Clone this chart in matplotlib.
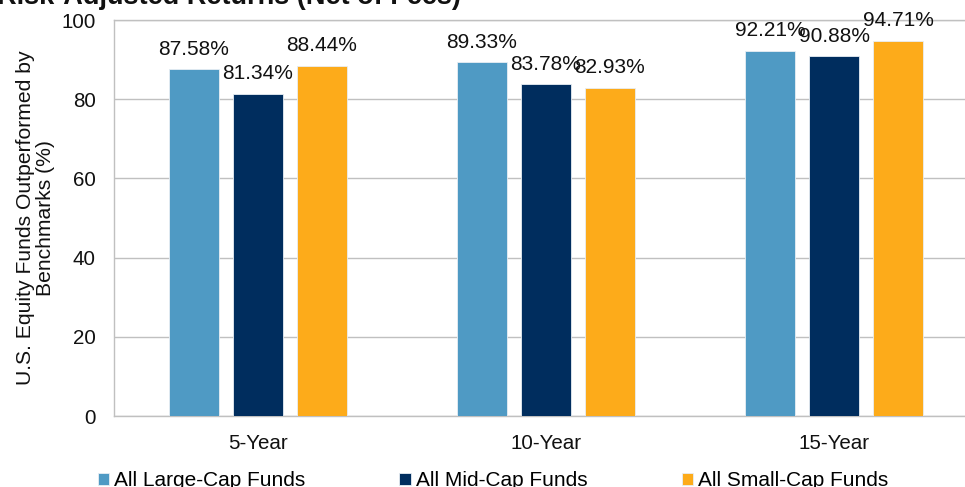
import matplotlib
matplotlib.use("Agg")
import matplotlib.pyplot as plt
import numpy as np

plt.rcParams['font.family'] = ['Liberation Sans', 'DejaVu Sans']

categories = ["5-Year", "10-Year", "15-Year"]
series_names = ["All Large-Cap Funds", "All Mid-Cap Funds", "All Small-Cap Funds"]
large_cap = [87.58, 89.33, 92.21]
mid_cap = [81.34, 83.78, 90.88]
small_cap = [88.44, 82.93, 94.71]
colors = ["#4F9AC4", "#002D5E", "#FDAB1A"]
yticks = [0, 20, 40, 60, 80, 100]

fig = plt.figure(figsize=(9.65, 4.87), dpi=100)
ax = fig.add_axes([114/965, 71/487, (978-114)/965, 396/487])

x = np.arange(len(categories))
width = 0.1736
offsets = [-0.2222, 0.0, 0.2222]
handles = []
for vals, off, col, name in zip([large_cap, mid_cap, small_cap], offsets, colors, series_names):
    bars = ax.bar(x + off, vals, width, color=col, label=name, zorder=3,
                  edgecolor="#E8EEF4", linewidth=0.6)
    handles.append(bars)
    for xi, v in zip(x + off, vals):
        ax.annotate(f"{v:.2f}%", (xi, v), xytext=(0, 10.5), textcoords="offset points",
                    ha="center", va="baseline", fontsize=15, color="#111111", zorder=4)

ax.set_xlim(-0.5, 2.5)
ax.set_ylim(0, 100)
ax.set_yticks(yticks)
ax.set_xticks(x)
ax.set_xticklabels(categories)
ax.tick_params(axis="both", length=0, labelsize=14.8, colors="#111111")
ax.tick_params(axis="y", pad=13)
ax.tick_params(axis="x", pad=13)
ax.yaxis.grid(True, color="#C0C0C0", linewidth=1.0, zorder=0)
ax.set_axisbelow(True)
for s in ["left", "top", "bottom", "right"]:
    ax.spines[s].set_color("#C0C0C0")
    ax.spines[s].set_linewidth(1.0)

ax.set_ylabel("U.S. Equity Funds Outperformed by\nBenchmarks (%)", fontsize=15.2,
              color="#111111", linespacing=1.05, labelpad=5)

fig.text(-0.003, 1 - 4/487, "Risk-Adjusted Returns (Net of Fees)", fontsize=19.5,
         fontweight="bold", ha="left", va="baseline", color="#111111")

fig.legend(handles=handles, labels=series_names, loc="center",
           bbox_to_anchor=(0.511, 6/487), ncol=3, frameon=False, fontsize=15,
           handlelength=0.55, handleheight=0.55, handletextpad=0.25,
           columnspacing=4.5, borderaxespad=0, borderpad=0)

fig.savefig("out.png", dpi=100)
